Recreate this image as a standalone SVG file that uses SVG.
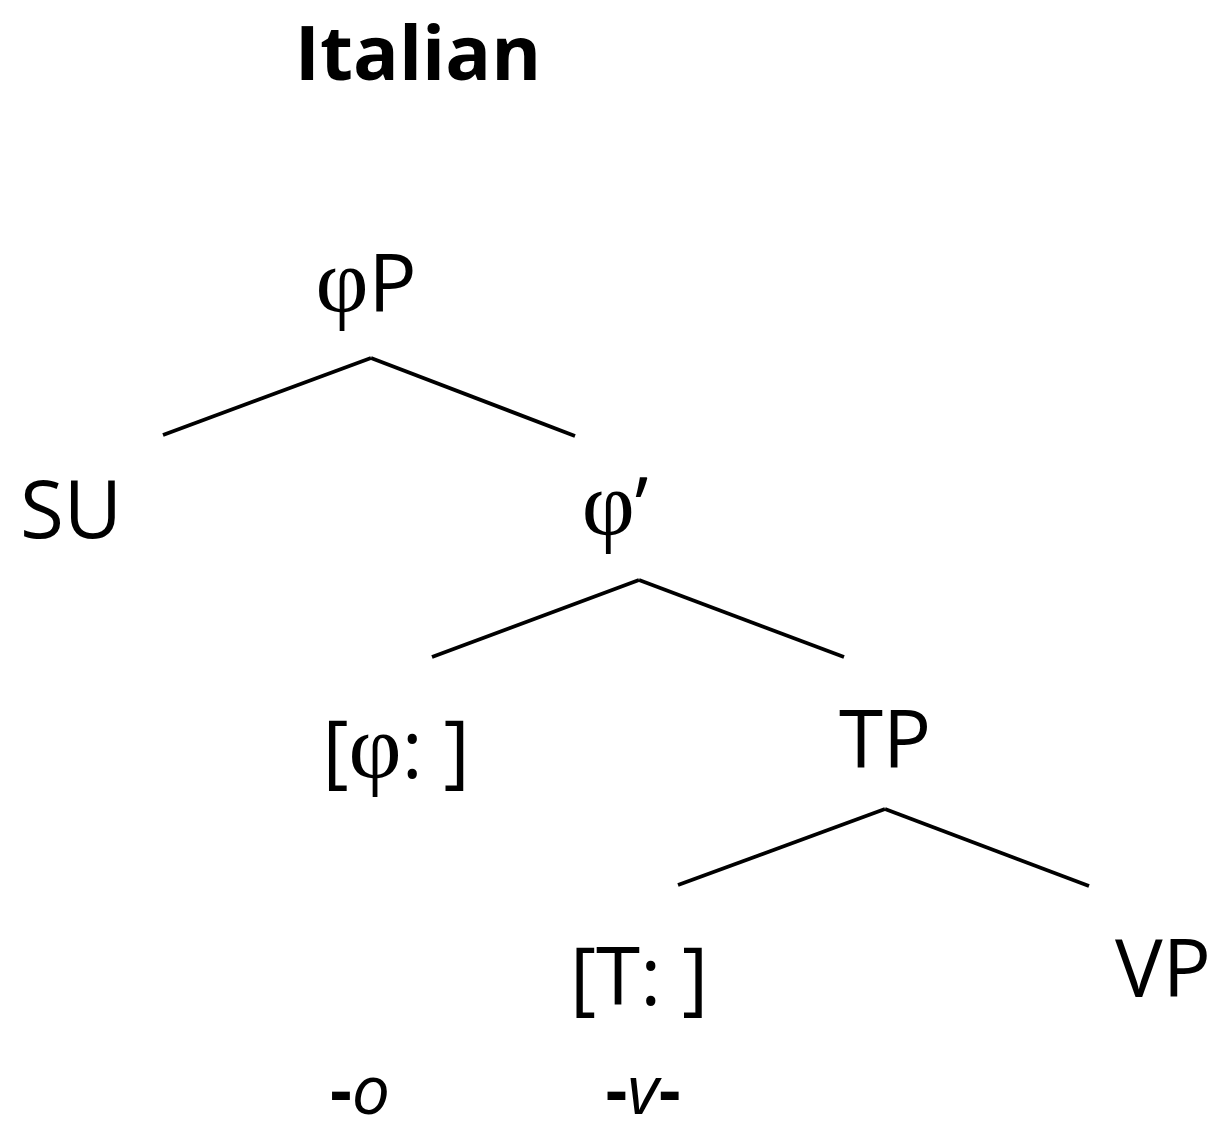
<svg xmlns="http://www.w3.org/2000/svg" width="1213" height="1122" viewBox="0 0 1213 1122">
<style>
.t{font-family:"Open Sans","Liberation Sans",sans-serif;font-size:80px;fill:#000}
.g{font-family:"Liberation Serif",serif;font-size:92px}
.b{font-weight:bold;font-size:76px}
.i{font-style:italic;font-size:68px}
.h{font-weight:bold;font-style:normal}
.e{stroke:#000;stroke-width:3.8;fill:none}
</style>
<rect width="1213" height="1122" fill="#fff"/>
<text id="title" class="t b" x="418" y="80" text-anchor="middle">Italian</text>
<g id="connectors">
<line class="e" x1="371" y1="358" x2="163" y2="435"/>
<line class="e" x1="371" y1="358" x2="575" y2="436"/>
<line class="e" x1="639" y1="580" x2="432" y2="657"/>
<line class="e" x1="639" y1="580" x2="844" y2="657"/>
<line class="e" x1="885" y1="809" x2="678" y2="885"/>
<line class="e" x1="885" y1="809" x2="1089" y2="886"/>
</g>
<g id="phiP"><text class="t" x="366" y="312" text-anchor="middle"><tspan class="g">φ</tspan>P</text></g>
<g id="SU"><text class="t" x="71" y="538" text-anchor="middle">SU</text></g>
<g id="phibar"><text class="t" x="615" y="535" text-anchor="middle"><tspan class="g">φ</tspan>’</text></g>
<g id="phifeat"><text class="t" x="396" y="778" text-anchor="middle">[<tspan class="g">φ</tspan>: ]</text></g>
<g id="TP"><text class="t" x="885" y="768" text-anchor="middle">TP</text></g>
<g id="Tfeat"><text class="t" x="639" y="1005" text-anchor="middle">[T: ]</text></g>
<g id="VP"><text class="t" x="1163" y="997" text-anchor="middle">VP</text></g>
<g id="o"><text class="t i" x="360" y="1114" text-anchor="middle"><tspan class="h">-</tspan>o</text></g>
<g id="v"><text class="t i" x="643" y="1114" text-anchor="middle"><tspan class="h">-</tspan>v<tspan class="h">-</tspan></text></g>
</svg>
